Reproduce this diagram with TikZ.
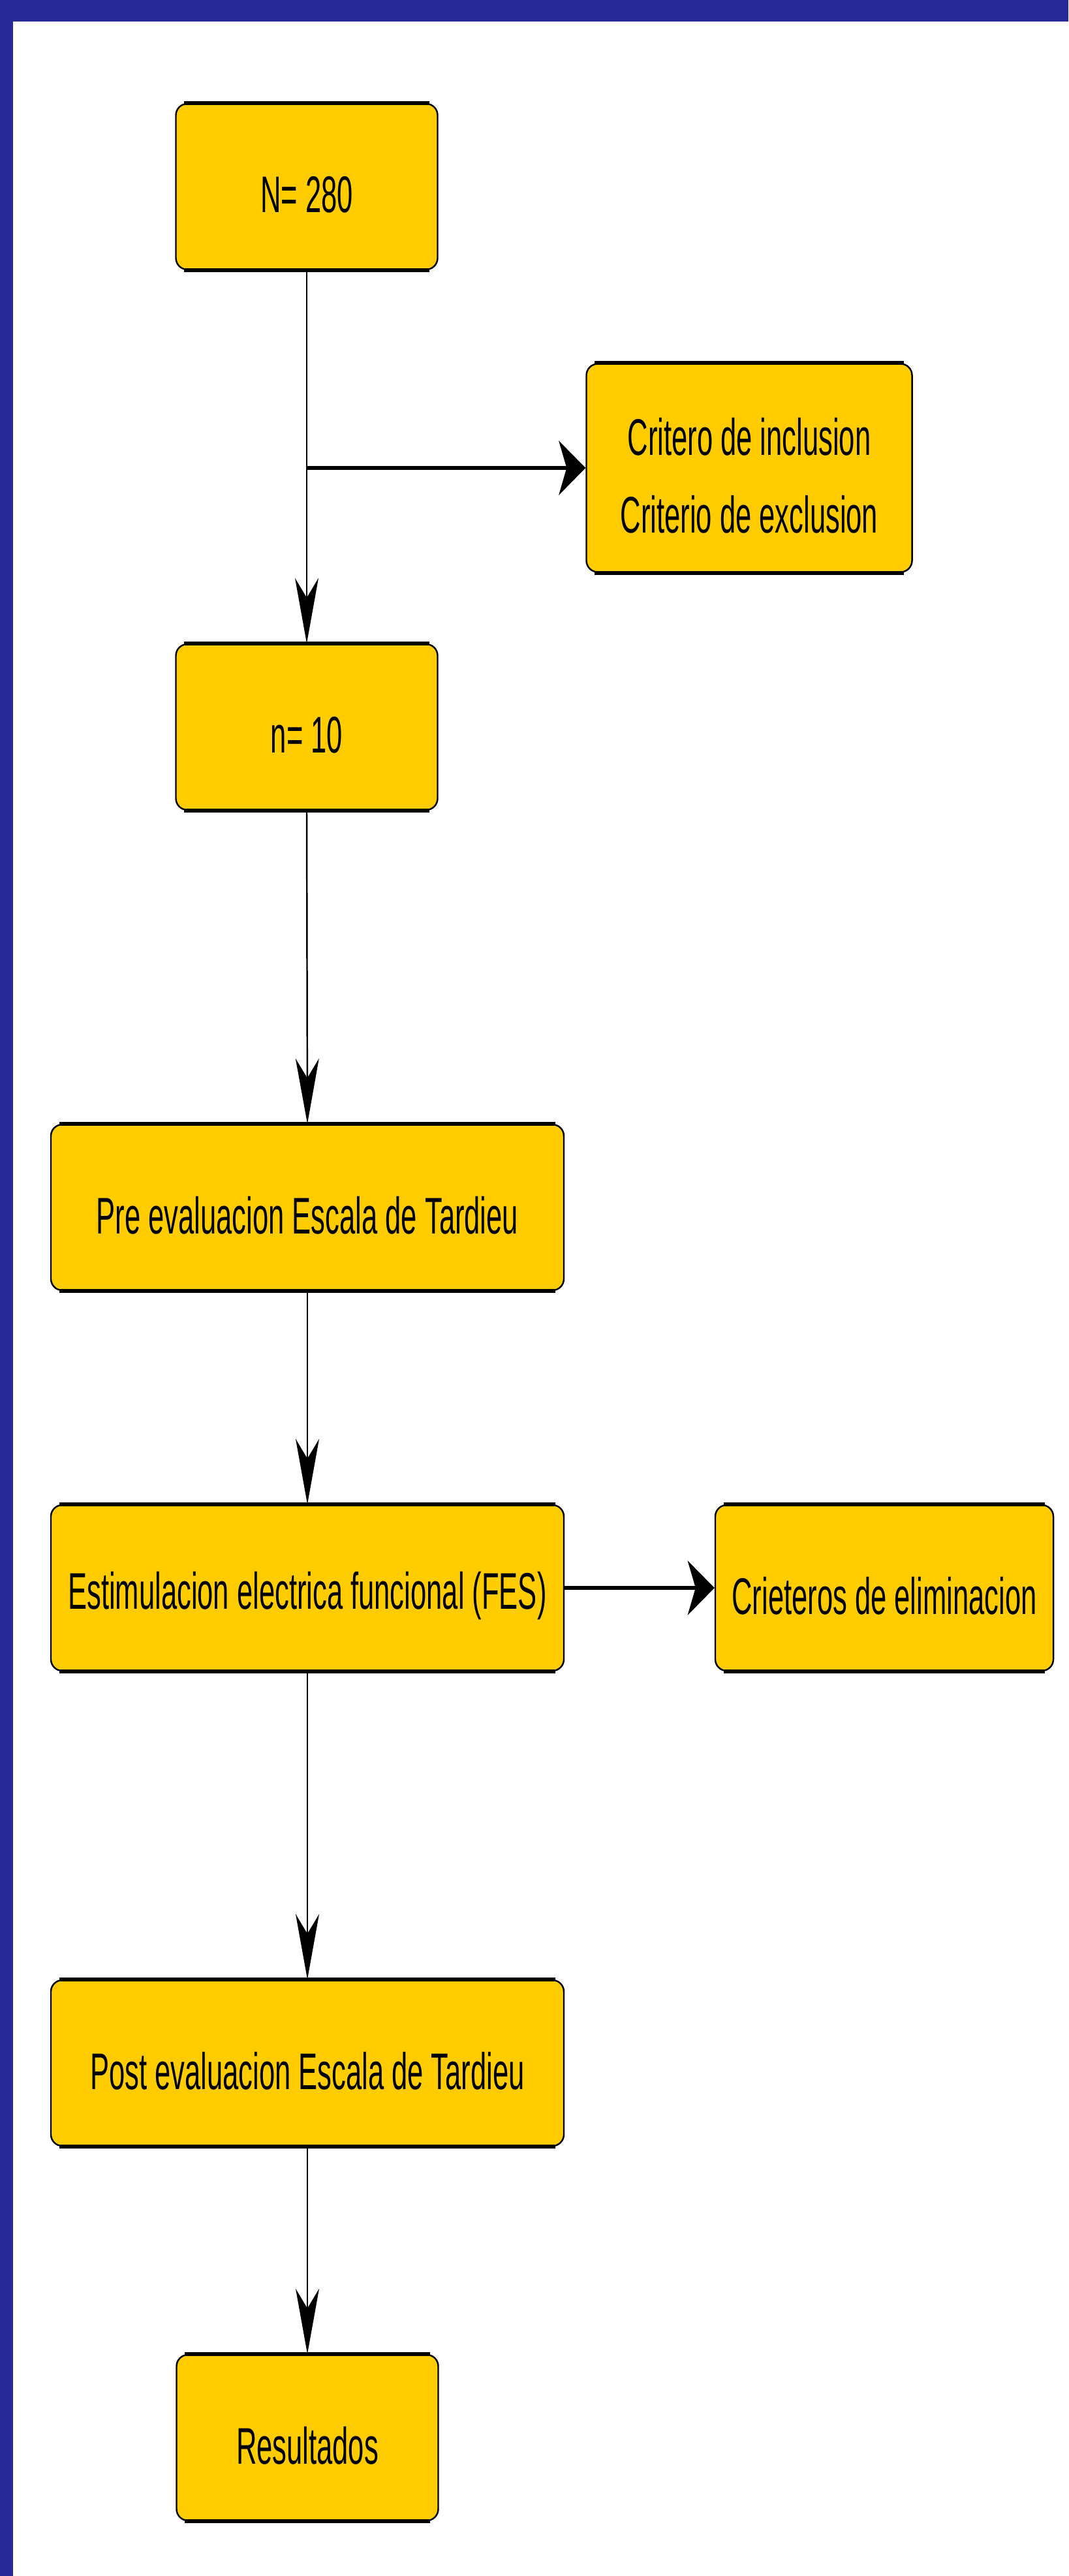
\documentclass[tikz,border=0pt]{standalone}
\usepackage{fontspec}
\setmainfont{Liberation Sans}
\usepackage{graphicx}
\usetikzlibrary{arrows.meta}

\definecolor{azulmarco}{RGB}{40,40,152}
\definecolor{amarillo}{RGB}{255,204,0}

% Texto angosto como en el diagrama original
\newcommand{\estrecho}[1]{\raisebox{-0.12cm}[\height][\depth]{\scalebox{0.59}[1.07]{#1}}}

\tikzset{
    caja/.style={draw=black, line width=0.7pt, fill=amarillo, rounded corners=5pt,
        minimum height=2.54cm, inner sep=0pt, align=center,
        font=\fontsize{21}{25}\selectfont},
    angosta/.style={caja, minimum width=4.01cm},
    ancha/.style={caja, minimum width=7.86cm},
    borde/.style={black, line width=1.7pt},
    flechav/.style={-{Stealth[length=1cm, width=0.36cm, inset=0.3cm]}, black, line width=0.7pt},
    flechah/.style={-{Stealth[length=0.41cm, width=0.83cm, inset=0.12cm]}, black, line width=1.7pt}
}

\begin{document}
\begin{tikzpicture}
    \useasboundingbox (0,0) rectangle (16.37,-39.47);

    % 1. Marco azul arriba y a la izquierda
    \fill[azulmarco] (0,0) rectangle (16.37,-0.33);
    \fill[azulmarco] (0,0) rectangle (0.2,-39.47);

    % 2. Cajas del diagrama
    \node[angosta] (n280) at (4.70,-2.86) {\estrecho{N= 280}};
    \node[caja, minimum width=4.99cm, minimum height=3.19cm] (criterios) at (11.48,-7.17)
        {\estrecho{Critero de inclusion}\\[9pt]\estrecho{Criterio de exclusion}};
    \node[angosta] (n10) at (4.70,-11.14) {\estrecho{n= 10}};
    \node[ancha] (pre) at (4.71,-18.50) {\estrecho{Pre evaluacion Escala de Tardieu}};
    \node[ancha] (fes) at (4.71,-24.33) {\estrecho{Estimulacion electrica funcional (FES)}};
    \node[caja, minimum width=5.18cm] (elim) at (13.55,-24.33) {\estrecho{Crieteros de eliminacion}};
    \node[ancha] (post) at (4.71,-31.61) {\estrecho{Post evaluacion Escala de Tardieu}};
    \node[angosta] (res) at (4.71,-37.35) {\estrecho{Resultados}};

    % Bordes gruesos arriba y abajo de cada caja
    \foreach \n in {n280, criterios, n10, pre, fes, elim, post, res} {
        \draw[borde] ([xshift=4pt]\n.north west) -- ([xshift=-4pt]\n.north east);
        \draw[borde] ([xshift=4pt]\n.south west) -- ([xshift=-4pt]\n.south east);
    }

    % 3. Conectores
    \coordinate (rama) at (n280.south |- criterios.west);
    \draw[flechav] (n280.south) -- (n10.north);
    \draw[flechah] (rama) -- (criterios.west);
    \draw[flechav] (n10.south) -- (pre.north);
    \draw[flechav] (pre.south) -- (fes.north);
    \draw[flechah] (fes.east) -- (elim.west);
    \draw[flechav] (fes.south) -- (post.north);
    \draw[flechav] (post.south) -- (res.north);

\end{tikzpicture}
\end{document}
